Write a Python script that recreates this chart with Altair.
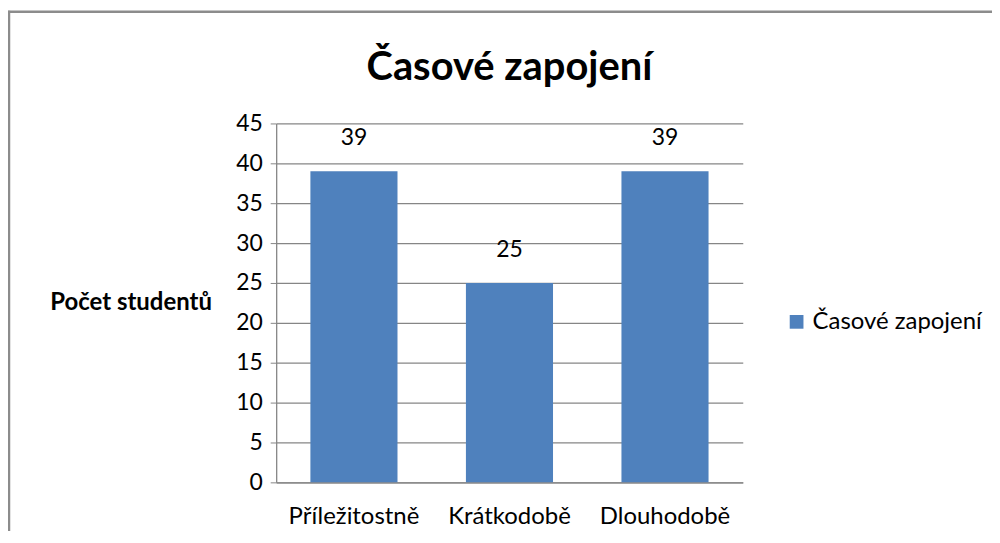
import altair as alt
import pandas as pd

categories = ["Příležitostně", "Krátkodobě", "Dlouhodobě"]
values = [39, 25, 39]
series = ["Časové zapojení"] * 3
chart_title = "Časové zapojení"

df = pd.DataFrame({"kategorie": categories, "pocet": values, "serie": series})

FONT = "Lato"
W, H = 468, 360

x = alt.X("kategorie:N", sort=categories, title=None,
          scale=alt.Scale(paddingInner=0.44, paddingOuter=0.22),
          axis=alt.Axis(labelAngle=0, labelFontSize=24, labelFont=FONT, labelColor="#000000",
                        labelPadding=22, ticks=False, domainColor="#868686", domainWidth=1.3))
y = alt.Y("pocet:Q", title="Počet studentů",
          scale=alt.Scale(domain=[0, 45]),
          axis=alt.Axis(values=list(range(0, 50, 5)), labelFontSize=23, labelFont=FONT,
                        labelColor="#000000", labelPadding=8, tickSize=6, tickColor="#868686",
                        labelOverlap=False,
                        domainColor="#868686", domainWidth=1.3, gridColor="#868686", gridWidth=1.2,
                        titleAngle=0, titleAlign="right", titleBaseline="middle",
                        titleX=-65, titleY=180, titleFontSize=24, titleFont=FONT,
                        titleFontWeight="bold", titleColor="#000000"))

bars = alt.Chart(df).mark_bar(color="#4F81BD").encode(
    x=x, y=y,
    color=alt.Color("serie:N", scale=alt.Scale(range=["#4F81BD"]),
                    legend=alt.Legend(title=None, orient="none", legendX=510, legendY=187,
                                      symbolType="square", symbolSize=190, symbolStrokeWidth=0,
                                      labelFontSize=24, labelFont=FONT, labelColor="#000000",
                                      labelOffset=4, labelLimit=400)),
)

labels = alt.Chart(df).mark_text(dy=-33, fontSize=23, font=FONT, color="#000000",
                                 baseline="middle").encode(
    x=x, y=y, text="pocet:Q")

title_df = pd.DataFrame({"t": [chart_title]})
title = alt.Chart(title_df).mark_text(fontSize=40, font=FONT, fontWeight="bold", color="#000000",
                                      align="center", baseline="alphabetic", clip=False).encode(
    x=alt.value(W / 2), y=alt.value(-44), text="t:N")

frame_df = pd.DataFrame({"k": [0]})
border_top = alt.Chart(frame_df).mark_rule(stroke="#8c8c8c", strokeWidth=2.5, clip=False).encode(
    x=alt.value(-269), x2=alt.value(740), y=alt.value(-112))
border_left = alt.Chart(frame_df).mark_rule(stroke="#8c8c8c", strokeWidth=2.5, clip=False).encode(
    x=alt.value(-268), y=alt.value(-113), y2=alt.value(470))

chart = alt.layer(border_top, border_left, bars, labels, title).properties(
    width=W, height=H,
    autosize=alt.AutoSizeParams(type="none"),
    padding={"left": 269, "top": 115, "right": 250, "bottom": 48},
).configure(background="white").configure_view(stroke=None)

chart.save("out.html", embed_options={"renderer": "svg", "actions": False})
